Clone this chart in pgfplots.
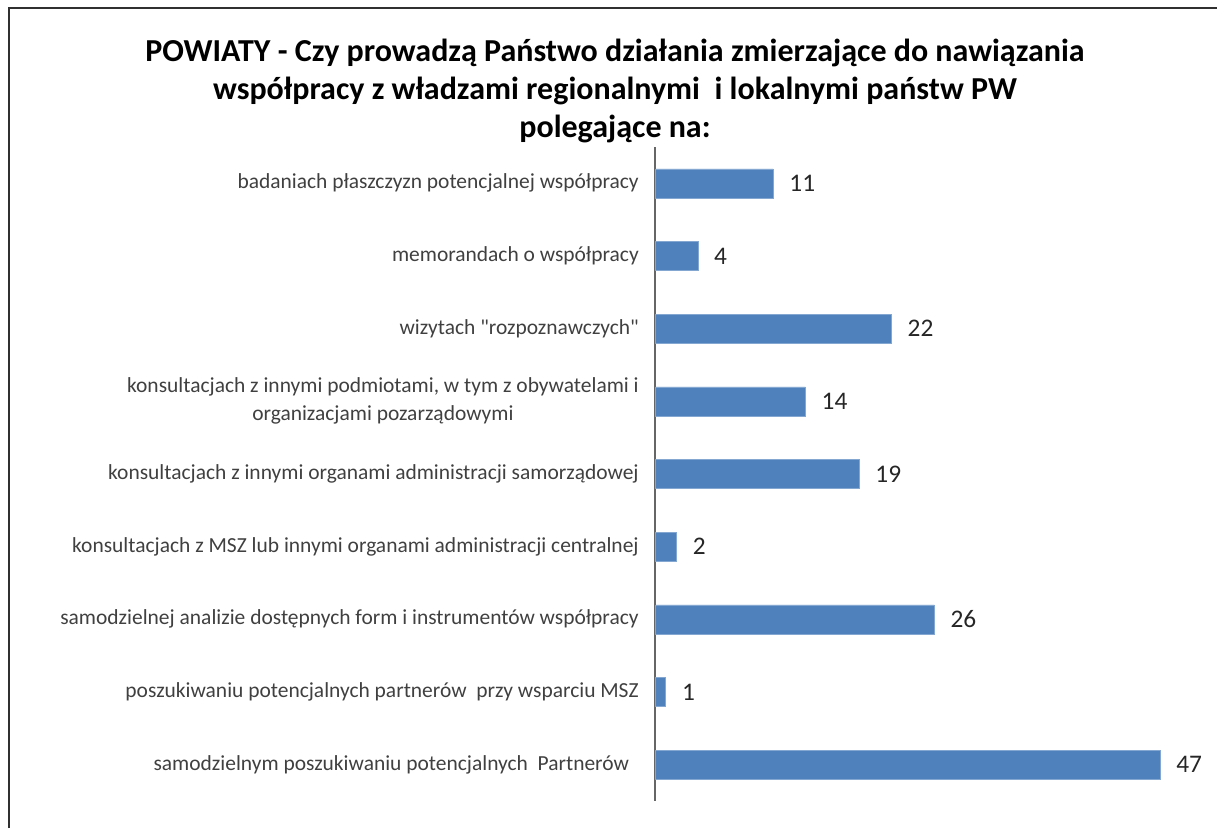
\documentclass[border=0pt]{standalone}
\usepackage{pgfplots}
\pgfplotsset{compat=1.18}
\usepackage{fontspec}
\setmainfont{Carlito}
\newfontfamily\plainfont{Carlito}
\newcommand{\q}{{\plainfont"}}
\definecolor{barblue}{HTML}{4F81BD}
\definecolor{labgray}{HTML}{404040}
\definecolor{framegray}{HTML}{303030}
\begin{document}
\begin{tikzpicture}[x=1pt,y=1pt]
\path[use as bounding box] (0,0) rectangle (912.75,621);
\draw[framegray,line width=1.6pt] (6.75,0) -- (6.75,615) -- (912.75,615);
\node[anchor=base,font=\fontsize{24}{28}\selectfont\bfseries] at (461.25,574.5) {POWIATY - Czy prowadzą Państwo działania zmierzające do nawiązania};
\node[anchor=base,font=\fontsize{24}{28}\selectfont\bfseries] at (461.25,546) {współpracy z władzami regionalnymi \ i lokalnymi państw PW};
\node[anchor=base,font=\fontsize{24}{28}\selectfont\bfseries] at (461.25,517.5) {polegające na:};
\begin{axis}[
  at={(491.25pt,20.25pt)}, anchor=south west,
  scale only axis, width=402.94pt, height=490.5pt,
  xmin=0, xmax=50, ymin=-0.5, ymax=8.5,
  y dir=reverse,
  hide x axis,
  axis y line*=left,
  y axis line style={draw=gray!80!black, line width=0.8pt, -},
  major tick length=0pt,
  ytick={0,...,8},
  yticklabels={
    badaniach płaszczyzn potencjalnej współpracy,
    memorandach o współpracy,
    wizytach \q rozpoznawczych\q,
    {konsultacjach z innymi podmiotami, w tym z obywatelami i\\organizacjami pozarządowymi},
    konsultacjach z innymi organami administracji samorządowej,
    konsultacjach z MSZ lub innymi organami administracji centralnej,
    samodzielnej analizie dostępnych form i instrumentów współpracy,
    poszukiwaniu potencjalnych partnerów \ przy wsparciu MSZ,
    samodzielnym poszukiwaniu potencjalnych \ Partnerów \ },
  yticklabel style={align=center, font=\fontsize{16.1}{21}\selectfont, text=labgray, inner sep=0pt, xshift=-12pt},
  xbar, bar width=21.75pt,
  /pgf/number format/assume math mode=true,
  nodes near coords,
  nodes near coords style={anchor=west, inner sep=0pt, xshift=12pt, font=\fontsize{19}{22}\selectfont, text=black!85},
  clip=false,
]
\addplot[fill=barblue, draw=barblue!70!white, line width=0.4pt] coordinates {
(11,0) (4,1) (22,2) (14,3) (19,4) (2,5) (26,6) (1,7) (47,8)};
\end{axis}
\end{tikzpicture}
\end{document}
